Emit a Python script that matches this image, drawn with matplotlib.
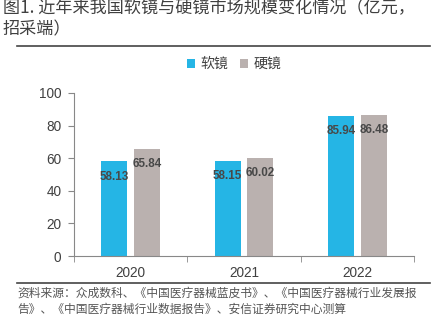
import numpy as np
import matplotlib.pyplot as plt
from matplotlib.lines import Line2D

plt.rcParams['font.family'] = ['Noto Sans CJK SC', 'DejaVu Sans']

# data
years = ['2020', '2021', '2022']
soft = [58.13, 58.15, 85.94]   # 软镜
hard = [65.84, 60.02, 86.48]   # 硬镜

blue = '#25b5e5'
gray = '#bab1af'
txt = '#404040'

fig = plt.figure(figsize=(4.41, 3.29), dpi=100)

# title + rules
fig.text(3 / 441, 1 - 19 / 329, '图1. 近年来我国软镜与硬镜市场规模变化情况（亿元，\n招采端）',
         fontsize=12.3, color=txt, va='center', ha='left', linespacing=1.2,
         fontweight='medium')
fig.add_artist(Line2D([17 / 441, 430 / 441], [1 - 46 / 329] * 2, color='#444444', lw=1.2))
fig.add_artist(Line2D([17 / 441, 430 / 441], [1 - 283 / 329] * 2, color='#444444', lw=1.2))

# source
fig.text(17 / 441, 1 - 301 / 329,
         '资料来源：众成数科、《中国医疗器械蓝皮书》、《中国医疗器械行业发展报\n告》、《中国医疗器械行业数据报告》、安信证券研究中心测算',
         fontsize=8.5, color='#555555', style='italic', va='center', ha='left', linespacing=1.35)

ax = fig.add_axes([74 / 441, 1 - 256 / 329, 340 / 441, 163 / 329])
x = np.arange(len(years))
w = 0.23
off = 0.145
b1 = ax.bar(x - off, soft, w, color=blue, label='软镜')
b2 = ax.bar(x + off, hard, w, color=gray, label='硬镜')

for bars, vals in ((b1, soft), (b2, hard)):
    for r, v in zip(bars, vals):
        ax.annotate(f'{v:.2f}', (r.get_x() + r.get_width() / 2, v), xytext=(0, -11),
                    textcoords='offset points', ha='center', va='center',
                    fontsize=8.4, fontweight='bold', color='#484848',
                    family='Liberation Sans')

ax.set_xlim(-0.5, 2.5)
ax.set_ylim(0, 100)
ax.set_yticks([0, 20, 40, 60, 80, 100])
ax.set_xticks(x)
ax.set_xticklabels(years)
ax.set_xticks([-0.5, 0.5, 1.5, 2.5], minor=True)
ax.tick_params(axis='x', which='major', length=0, pad=7)
ax.tick_params(axis='x', which='minor', length=4, color='#888888')
ax.tick_params(axis='y', length=4, color='#888888', pad=5)
for lab in ax.get_xticklabels() + ax.get_yticklabels():
    lab.set_family('Liberation Sans')
    lab.set_fontsize(9.8)
    lab.set_color(txt)
for s in ['top', 'right']:
    ax.spines[s].set_visible(False)
for s in ['left', 'bottom']:
    ax.spines[s].set_color('#888888')

fig.legend(handles=[b1, b2], loc='center', bbox_to_anchor=(234 / 441, 1 - 64 / 329),
           ncol=2, frameon=False, fontsize=10, handlelength=0.6, handleheight=0.6,
           handletextpad=0.4, columnspacing=0.8, labelcolor=txt)

fig.savefig('out.png', dpi=100)
